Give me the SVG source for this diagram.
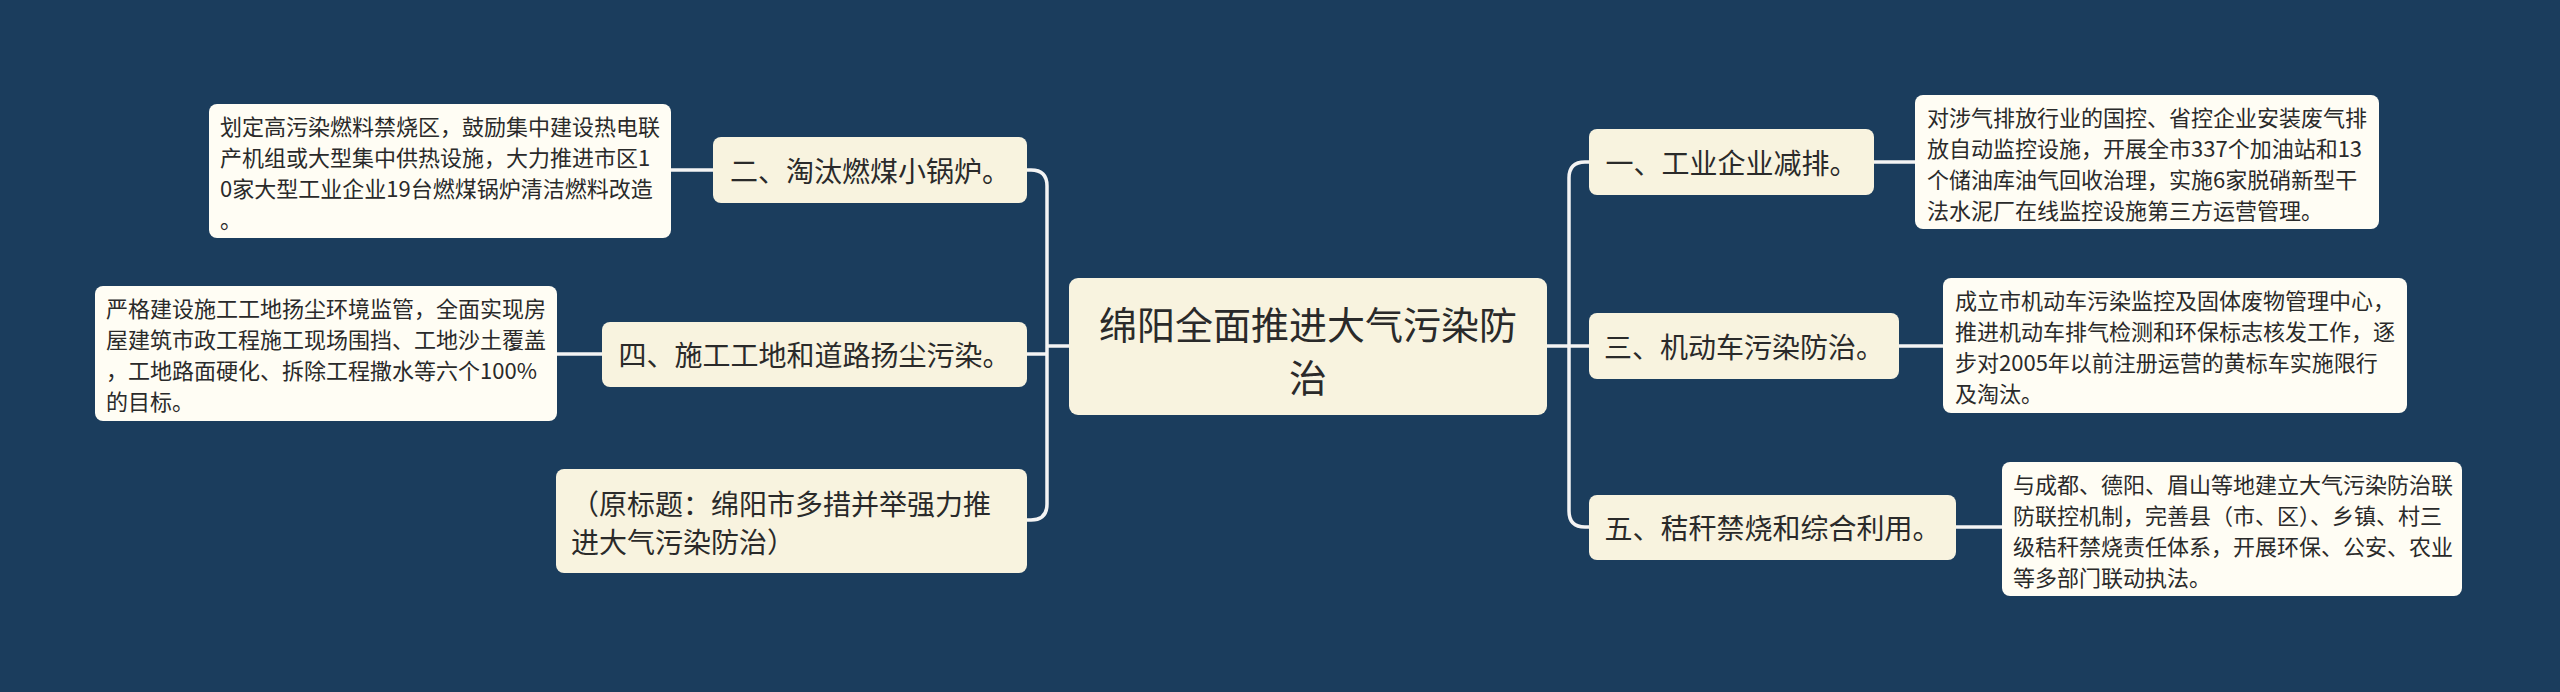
<svg xmlns="http://www.w3.org/2000/svg" width="2560" height="692" viewBox="0 0 2560 692">
<style>
text{font-family:"Noto Sans CJK SC","Noto Sans",sans-serif;fill:#2a2a2a;dominant-baseline:central}
.main{fill:#f8f3df}
.branch{fill:#f8f3df}
.leaf{fill:#fffdf4}
.t-main{font-size:38px;text-anchor:middle}
.t-branch{font-size:28px}
.t-mid{text-anchor:middle}
.t-leaf{font-size:22px}
.conn path{fill:none;stroke:#f4f4f4;stroke-width:3.5}
</style>
<rect width="2560" height="692" fill="#1b3d5d"/>
<g class="conn">
<path d="M1069,346 H1047"/>
<path d="M1027,170 H1031 Q1047,170 1047,186 V504 Q1047,520 1031,520 H1027"/>
<path d="M1047,354 H1027"/>
<path d="M1547,346 H1589"/>
<path d="M1589,162 H1585 Q1569,162 1569,178 V511 Q1569,527 1585,527 H1589"/>
<path d="M713,170 H671"/>
<path d="M602,354 H557"/>
<path d="M1874,162 H1915"/>
<path d="M1899,346 H1943"/>
<path d="M1956,527 H2002"/>
</g>
<g id="center">
<rect class="main" x="1069" y="278" width="478" height="137" rx="9"/>
<text class="t-main" x="1308" y="322">绵阳全面推进大气污染防</text>
<text class="t-main" x="1308" y="375">治</text>
</g>
<g id="b2">
<rect class="branch" x="713" y="137" width="314" height="66" rx="8"/>
<text class="t-branch t-mid" x="870" y="170">二、淘汰燃煤小锅炉。</text>
</g>
<g id="b4">
<rect class="branch" x="602" y="322" width="425" height="65" rx="8"/>
<text class="t-branch t-mid" x="814.5" y="354">四、施工工地和道路扬尘污染。</text>
</g>
<g id="b-orig">
<rect class="branch" x="556" y="469" width="471" height="104" rx="8"/>
<text class="t-branch" x="571" y="503">（原标题：绵阳市多措并举强力推</text>
<text class="t-branch" x="571" y="541">进大气污染防治）</text>
</g>
<g id="b1">
<rect class="branch" x="1589" y="129" width="285" height="66" rx="8"/>
<text class="t-branch t-mid" x="1731.5" y="162">一、工业企业减排。</text>
</g>
<g id="b3">
<rect class="branch" x="1589" y="313" width="310" height="66" rx="8"/>
<text class="t-branch t-mid" x="1744" y="346">三、机动车污染防治。</text>
</g>
<g id="b5">
<rect class="branch" x="1589" y="495" width="367" height="65" rx="8"/>
<text class="t-branch t-mid" x="1772.5" y="527">五、秸秆禁烧和综合利用。</text>
</g>
<g id="l2">
<rect class="leaf" x="209" y="104" width="462" height="134" rx="8"/>
<text class="t-leaf" x="220" y="125">划定高污染燃料禁烧区，鼓励集中建设热电联</text>
<text class="t-leaf" x="220" y="156">产机组或大型集中供热设施，大力推进市区1</text>
<text class="t-leaf" x="220" y="187">0家大型工业企业19台燃煤锅炉清洁燃料改造</text>
<text class="t-leaf" x="220" y="218">。</text>
</g>
<g id="l4">
<rect class="leaf" x="95" y="286" width="462" height="135" rx="8"/>
<text class="t-leaf" x="106" y="307">严格建设施工工地扬尘环境监管，全面实现房</text>
<text class="t-leaf" x="106" y="338">屋建筑市政工程施工现场围挡、工地沙土覆盖</text>
<text class="t-leaf" x="106" y="369">，工地路面硬化、拆除工程撒水等六个100%</text>
<text class="t-leaf" x="106" y="400">的目标。</text>
</g>
<g id="l1">
<rect class="leaf" x="1915" y="95" width="464" height="134" rx="8"/>
<text class="t-leaf" x="1927" y="116">对涉气排放行业的国控、省控企业安装废气排</text>
<text class="t-leaf" x="1927" y="147">放自动监控设施，开展全市337个加油站和13</text>
<text class="t-leaf" x="1927" y="178">个储油库油气回收治理，实施6家脱硝新型干</text>
<text class="t-leaf" x="1927" y="209">法水泥厂在线监控设施第三方运营管理。</text>
</g>
<g id="l3">
<rect class="leaf" x="1943" y="278" width="464" height="135" rx="8"/>
<text class="t-leaf" x="1955" y="299">成立市机动车污染监控及固体废物管理中心，</text>
<text class="t-leaf" x="1955" y="330">推进机动车排气检测和环保标志核发工作，逐</text>
<text class="t-leaf" x="1955" y="361">步对2005年以前注册运营的黄标车实施限行</text>
<text class="t-leaf" x="1955" y="392">及淘汰。</text>
</g>
<g id="l5">
<rect class="leaf" x="2002" y="462" width="460" height="134" rx="8"/>
<text class="t-leaf" x="2013" y="483">与成都、德阳、眉山等地建立大气污染防治联</text>
<text class="t-leaf" x="2013" y="514">防联控机制，完善县（市、区）、乡镇、村三</text>
<text class="t-leaf" x="2013" y="545">级秸秆禁烧责任体系，开展环保、公安、农业</text>
<text class="t-leaf" x="2013" y="576">等多部门联动执法。</text>
</g>
</svg>
